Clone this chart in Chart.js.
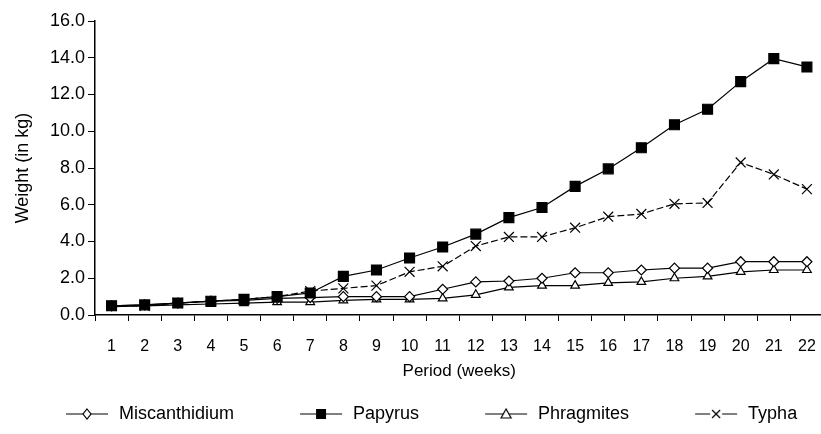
<!DOCTYPE html>
<html>
<head>
<meta charset="utf-8">
<script src="https://cdn.jsdelivr.net/npm/chart.js@4.4.1/dist/chart.umd.min.js"></script>
<style>
  html, body { margin: 0; padding: 0; background: #fff; overflow: hidden; }
  #wrap { width: 821px; height: 434px; overflow: hidden; }
</style>
</head>
<body>
<div id="wrap"><canvas id="myChart" width="832" height="434"></canvas></div>
<script>
// datos del grafico
const weeks = ['1', '2', '3', '4', '5', '6', '7', '8', '9', '10', '11', '12', '13', '14', '15', '16', '17', '18', '19', '20', '21', '22'];
const miscanthidium = [0.5, 0.55, 0.65, 0.75, 0.8, 0.9, 0.95, 1.0, 1.0, 1.0, 1.4, 1.8, 1.85, 2.0, 2.3, 2.3, 2.45, 2.55, 2.55, 2.9, 2.9, 2.9];
const papyrus = [0.5, 0.55, 0.65, 0.75, 0.85, 1.0, 1.2, 2.1, 2.45, 3.1, 3.7, 4.4, 5.3, 5.85, 7.0, 7.95, 9.1, 10.35, 11.2, 12.7, 13.95, 13.5];
const phragmites = [0.45, 0.5, 0.55, 0.6, 0.65, 0.7, 0.7, 0.8, 0.85, 0.85, 0.9, 1.1, 1.5, 1.6, 1.6, 1.75, 1.8, 2.0, 2.1, 2.35, 2.45, 2.45];
const typha = [0.5, 0.5, 0.65, 0.75, 0.85, 1.0, 1.3, 1.45, 1.6, 2.35, 2.65, 3.75, 4.25, 4.25, 4.75, 5.35, 5.5, 6.05, 6.1, 8.3, 7.65, 6.85];
const seriesNames = ['Miscanthidium', 'Papyrus', 'Phragmites', 'Typha'];

const font = 'Liberation Sans, Arial, sans-serif';
const blank = 54;
const iconW = 46;

// iconos de la leyenda: linea con marcador
const makeIcon = (kind) => {
    const c = document.createElement('canvas');
    c.width = blank + iconW;
    c.height = 14;
    const ctx = c.getContext('2d');
    const cx = blank + iconW / 2;
    const cy = 7;
    ctx.strokeStyle = '#000';
    ctx.lineWidth = 1.2;
    ctx.beginPath();
    ctx.moveTo(blank + 2, cy);
    ctx.lineTo(blank + iconW - 2, cy);
    ctx.stroke();
    ctx.beginPath();
    if (kind === 'diamond') {
        ctx.moveTo(cx, cy - 5); ctx.lineTo(cx + 4, cy); ctx.lineTo(cx, cy + 5); ctx.lineTo(cx - 4, cy); ctx.closePath();
        ctx.fillStyle = '#fff'; ctx.fill(); ctx.stroke();
    } else if (kind === 'square') {
        ctx.fillStyle = '#000'; ctx.fillRect(cx - 5, cy - 5, 10, 10);
    } else if (kind === 'triangle') {
        ctx.moveTo(cx, cy - 5); ctx.lineTo(cx + 5, cy + 4); ctx.lineTo(cx - 5, cy + 4); ctx.closePath();
        ctx.fillStyle = '#fff'; ctx.fill(); ctx.stroke();
    } else {
        ctx.fillStyle = '#fff'; ctx.fillRect(cx - 6, cy - 6, 12, 12);
        ctx.moveTo(cx - 4, cy - 4); ctx.lineTo(cx + 4, cy + 4);
        ctx.moveTo(cx + 4, cy - 4); ctx.lineTo(cx - 4, cy + 4);
        ctx.stroke();
    }
    return c;
};
const icons = [makeIcon('diamond'), makeIcon('square'), makeIcon('triangle'), makeIcon('x')];

const baseSet = {
    borderColor: '#000',
    borderWidth: 1.2,
    pointBorderColor: '#000',
    pointBorderWidth: 1.2,
    tension: 0,
    fill: false
};

// order: Typha encima, luego Papyrus
const data = {
    labels: weeks,
    datasets: [
        { ...baseSet, label: seriesNames[0], data: miscanthidium, order: 3, pointStyle: 'rectRot', pointRadius: 5, pointBackgroundColor: '#fff' },
        { ...baseSet, label: seriesNames[1], data: papyrus, order: 2, pointStyle: 'rect', pointRadius: 7, pointBackgroundColor: '#000' },
        { ...baseSet, label: seriesNames[2], data: phragmites, order: 4, pointStyle: 'triangle', pointRadius: 5, pointBackgroundColor: '#fff' },
        { ...baseSet, label: seriesNames[3], data: typha, order: 1, pointStyle: 'crossRot', pointRadius: 7, borderDash: [7, 3], pointBackgroundColor: '#fff' }
    ]
};

const config = {
    type: 'line',
    data: data,
    options: {
        responsive: false,
        animation: false,
        layout: { padding: { top: 21, right: 2, bottom: 1, left: 0 } },
        plugins: {
            tooltip: { enabled: false },
            legend: {
                position: 'bottom',
                align: 'start',
                labels: {
                    usePointStyle: true,
                    pointStyleWidth: blank + iconW,
                    padding: 10,
                    color: '#000',
                    font: { family: font, size: 18 },
                    generateLabels: (chart) => {
                        const items = Chart.defaults.plugins.legend.labels.generateLabels(chart);
                        items.forEach((it) => { it.pointStyle = icons[it.datasetIndex]; });
                        return items;
                    },
                    sort: (a, b) => a.datasetIndex - b.datasetIndex
                }
            }
        },
        scales: {
            x: {
                offset: true,
                grid: { offset: true, drawOnChartArea: false, drawTicks: true, tickLength: 6, color: '#000', lineWidth: 1 },
                border: { color: '#000', width: 1.5 },
                ticks: { color: '#000', padding: 16, maxRotation: 0, autoSkip: false, font: { family: font, size: 16 } },
                title: { display: true, text: 'Period (weeks)', color: '#000', font: { family: font, size: 17 }, padding: { top: 0, bottom: 13 } },
                afterFit: (scale) => { scale.height = 80; }
            },
            y: {
                min: 0,
                max: 16,
                grid: { drawOnChartArea: false, drawTicks: true, tickLength: 7, color: '#000', lineWidth: 1 },
                border: { color: '#000', width: 1.5 },
                ticks: { stepSize: 2, color: '#000', padding: 3, font: { family: font, size: 18 }, callback: (v) => v.toFixed(1) },
                title: { display: true, text: 'Weight (in kg)', color: '#000', font: { family: font, size: 18 }, padding: { top: 12, bottom: 0 } },
                afterFit: (scale) => { scale.width = 95; }
            }
        }
    }
};

new Chart(document.getElementById('myChart'), config);
</script>
</body>
</html>
